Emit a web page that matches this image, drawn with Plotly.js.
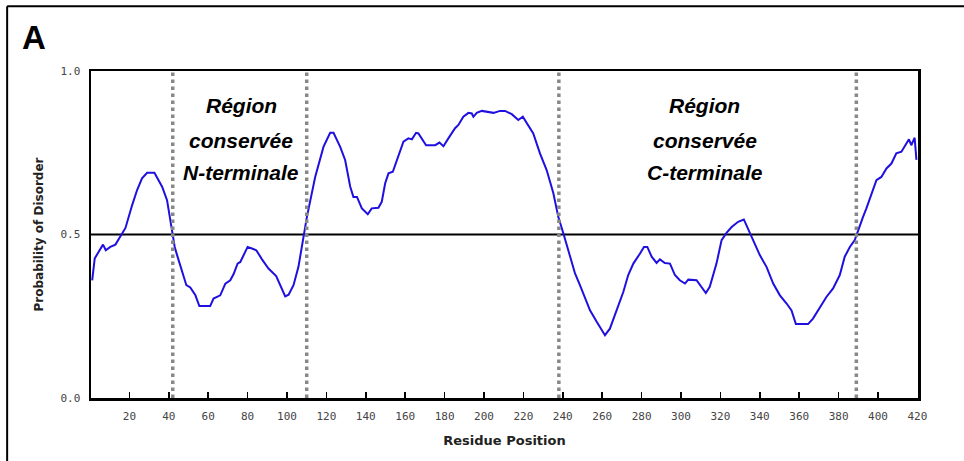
<!DOCTYPE html>
<html>
<head>
<meta charset="utf-8">
<script src="https://cdn.plot.ly/plotly-3.0.1.min.js"></script>
<style>html,body{margin:0;padding:0;background:#fff;}#chart{width:964px;height:461px;}</style>
</head>
<body>
<div id="chart"></div>
<script>
// Residue positions and disorder probability
const residuePosition = [1.1,2.4,4.4,6.6,8,10.3,12.9,15.4,18,21.4,23.9,26.4,29,32.7,34.5,36.6,39.1,41.3,43,44.2,46.7,48.9,50.9,53.5,55.5,61,62.7,66.1,68.7,71.2,72.9,74.9,76.3,80,82.2,84.4,87.3,90.6,94.5,96.6,99.1,100.8,103.3,105.8,108.4,110.1,114.3,118.5,121.9,123.6,127,129.5,132.1,133.7,135.5,138,141,143,146.4,148.1,149.8,151.5,153.7,156.6,159.1,161.6,163.4,165.5,166.7,170.6,175.2,177.4,179.4,181.9,185.3,187,189.5,192.1,193.8,194.6,196.3,198.9,201.4,204.8,208.1,210.7,214.1,217.4,219.7,221.7,225,228.4,231.8,235.2,237.7,240.3,243.6,246.2,248.7,251.3,253.8,257.2,259.7,261.4,263.9,267.3,270.7,273.2,275.8,279.2,281.2,282.9,285.1,287.6,289.3,291.8,294.4,296.9,299.4,302,303.7,307.9,310.4,312.6,314.6,318,320.6,323.1,325.7,329,331.9,334.1,336.6,340,343.4,346.8,350.2,353.6,356.1,358.3,360.3,364.5,367,370.4,373.8,377.2,380.6,383.1,385.7,388.2,390.7,392.4,394.1,396.7,399.2,401.7,404.3,406.8,409.3,411.9,414.1,415.7,416.9,418.6,419.5];
const disorderProb = [0.36,0.427,0.447,0.469,0.452,0.462,0.469,0.493,0.52,0.59,0.636,0.672,0.689,0.689,0.67,0.646,0.605,0.523,0.462,0.437,0.391,0.345,0.338,0.314,0.281,0.281,0.304,0.314,0.35,0.36,0.379,0.411,0.416,0.462,0.457,0.452,0.424,0.396,0.373,0.345,0.311,0.316,0.345,0.401,0.493,0.554,0.676,0.768,0.811,0.811,0.768,0.728,0.646,0.615,0.615,0.58,0.562,0.58,0.582,0.6,0.656,0.687,0.692,0.738,0.784,0.794,0.791,0.811,0.809,0.773,0.773,0.781,0.77,0.794,0.825,0.835,0.86,0.872,0.87,0.86,0.872,0.878,0.875,0.872,0.878,0.878,0.868,0.85,0.86,0.84,0.809,0.748,0.697,0.626,0.554,0.503,0.432,0.381,0.345,0.304,0.268,0.233,0.207,0.192,0.212,0.268,0.324,0.376,0.411,0.442,0.462,0.462,0.432,0.413,0.424,0.413,0.411,0.376,0.36,0.35,0.362,0.36,0.338,0.321,0.34,0.411,0.483,0.505,0.523,0.539,0.546,0.518,0.483,0.437,0.401,0.35,0.314,0.289,0.268,0.226,0.226,0.226,0.243,0.274,0.309,0.335,0.376,0.432,0.462,0.483,0.529,0.554,0.58,0.626,0.666,0.676,0.702,0.717,0.748,0.753,0.773,0.791,0.773,0.796,0.728];

const regionBoundaries = [42, 110, 238, 389];
const threshold = 0.5;
const xTickValues = [20,40,60,80,100,120,140,160,180,200,220,240,260,280,300,320,340,360,380,400,420];
const yTickValues = [0, 0.5, 1];
const yTickLabels = ['0.0', '0.5', '1.0'];
const regionLabelN = ['Région', 'conservée', 'N-terminale'];
const regionLabelC = ['Région', 'conservée', 'C-terminale'];
const regionCentersX = [76.8, 312.1];
const panelLabel = 'A';

const trace = {
  x: residuePosition, y: disorderProb, type: 'scatter', mode: 'lines',
  line: {color: '#1f10e0', width: 2}, hoverinfo: 'skip'
};

const shapes = [];
regionBoundaries.forEach(b => shapes.push({
  type: 'line', xref: 'x', yref: 'paper', x0: b, x1: b, y0: 0, y1: 1,
  line: {color: '#888888', width: 3.5, dash: 'dot'}, layer: 'above'
}));
shapes.push({type: 'line', xref: 'paper', yref: 'y', x0: 0, x1: 1, y0: threshold, y1: threshold,
  line: {color: '#000', width: 2}, layer: 'below'});
// outer frame (top and left)
shapes.push({type: 'line', xref: 'paper', yref: 'paper', x0: -0.1014, x1: 1.1, y0: 1.198, y1: 1.198, line: {color: '#000', width: 2}});
shapes.push({type: 'line', xref: 'paper', yref: 'paper', x0: -0.1014, x1: -0.1014, y0: 1.198, y1: -0.3, line: {color: '#000', width: 2}});

const annFont = {family: 'Liberation Sans, Arial, sans-serif', size: 21, color: '#000', weight: 'bold', style: 'italic'};
const lineY = [0.893, 0.789, 0.691];
const annotations = [];
[regionLabelN, regionLabelC].forEach((lbls, k) => {
  lbls.forEach((t, i) => annotations.push({
    xref: 'x', yref: 'y', x: regionCentersX[k], y: lineY[i], text: '<b><i>' + t + '</i></b>',
    showarrow: false, xanchor: 'center', yanchor: 'middle', font: annFont
  }));
});
annotations.push({xref: 'paper', yref: 'paper', x: -0.0685, y: 1.101, text: '<b>' + panelLabel + '</b>',
  showarrow: false, xanchor: 'center', yanchor: 'middle',
  font: {family: 'Liberation Sans, Arial, sans-serif', size: 33, color: '#000'}});

const layout = {
  width: 964, height: 461,
  margin: {l: 91, r: 46, t: 71, b: 63, pad: 0},
  paper_bgcolor: '#fff', plot_bgcolor: '#fff',
  showlegend: false,
  xaxis: {
    range: [0.5, 420.3], tickvals: xTickValues, ticktext: xTickValues.map(String),
    ticks: 'inside', ticklen: 6, tickwidth: 1.5, tickcolor: '#000',
    showline: true, linecolor: '#000', linewidth: 2.5, mirror: true,
    showgrid: false, zeroline: false, ticklabelstandoff: 6,
    tickfont: {family: 'DejaVu Sans Mono, monospace', size: 11, color: '#444'},
    title: {text: '<b>Residue Position</b>', font: {family: 'DejaVu Sans, sans-serif', size: 13, color: '#222'}, standoff: 14}
  },
  yaxis: {
    range: [0, 1], tickvals: yTickValues, ticktext: yTickLabels,
    ticks: '', showline: true, linecolor: '#000', linewidth: 2.5, mirror: true,
    showgrid: false, zeroline: false, ticklabelstandoff: 6,
    tickfont: {family: 'DejaVu Sans Mono, monospace', size: 11, color: '#444'},
    title: {text: '<b>Probability of Disorder</b>', font: {family: 'DejaVu Sans, sans-serif', size: 12, color: '#222'}, standoff: 14}
  },
  shapes: shapes,
  annotations: annotations
};

Plotly.newPlot('chart', [trace], layout, {displayModeBar: false, staticPlot: true});
</script>
</body>
</html>
